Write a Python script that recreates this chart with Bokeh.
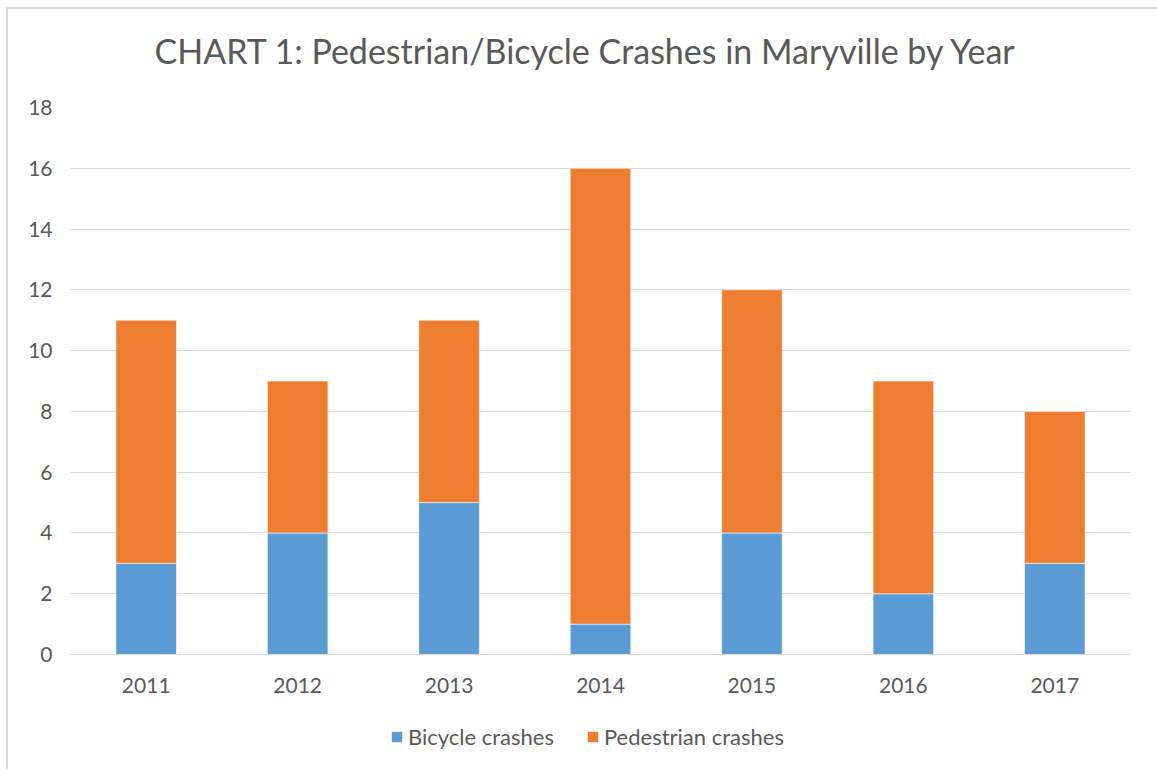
from bokeh.plotting import figure
from bokeh.layouts import column
from bokeh.models import ColumnDataSource, Legend, LegendItem, Label, FixedTicker, Range1d
from bokeh.embed import file_html
from bokeh.resources import INLINE

years = ["2011", "2012", "2013", "2014", "2015", "2016", "2017"]
bicycle = [3, 4, 5, 1, 4, 2, 3]
pedestrian = [8, 5, 6, 15, 8, 7, 5]
series = ["Bicycle crashes", "Pedestrian crashes"]
colors = ["#5B9BD5", "#ED7D31"]
y_ticks = [0, 2, 4, 6, 8, 10, 12, 14, 16, 18]
title_text = "CHART 1: Pedestrian/Bicycle Crashes in Maryville by Year"

FONT = "Lato"
TXT = "#595959"
W = 1149


def blank(h, x_range, y_range):
    f = figure(width=W, height=h, x_range=x_range, y_range=y_range,
               output_backend="svg", toolbar_location=None,
               x_axis_type=None, y_axis_type=None, min_border=0)
    f.title = None
    f.grid.grid_line_color = None
    f.outline_line_color = None
    return f


source = ColumnDataSource(dict(years=years, bicycle=bicycle, pedestrian=pedestrian))

# header with title
header = blank(84, Range1d(0, W), Range1d(0, 84))
header.add_layout(Label(x=559, y=43, text=title_text, text_font=FONT, text_font_size="34px",
                        text_color=TXT, text_align="center", text_baseline="alphabetic"))

# main chart
p = figure(x_range=years, y_range=(0, 18), frame_width=1060, frame_height=547,
           output_backend="svg", toolbar_location=None,
           min_border_left=62, min_border_right=27, min_border_top=14, min_border_bottom=55)
p.title = None
rs = p.vbar_stack(["bicycle", "pedestrian"], x="years", width=0.4, source=source,
                  color=colors, line_color="white", line_width=1, line_alpha=0.6)
p.outline_line_color = None
p.xgrid.grid_line_color = None
p.ygrid.grid_line_color = "#d9d9d9"
p.ygrid.grid_line_width = 1
p.yaxis.ticker = FixedTicker(ticks=y_ticks)
p.yaxis.axis_line_color = None
p.yaxis.major_tick_line_color = None
p.yaxis.minor_tick_line_color = None
p.yaxis.major_label_standoff = 12
p.xaxis.axis_line_color = "#d9d9d9"
p.xaxis.major_tick_line_color = None
p.xaxis.major_label_standoff = 17
for ax in (p.xaxis, p.yaxis):
    ax.major_label_text_font = FONT
    ax.major_label_text_font_size = "21px"
    ax.major_label_text_color = TXT

# footer with legend (its stacks lie outside the footer's visible range; only the swatches show)
footer = blank(60, years, Range1d(100, 160))
swatches = footer.vbar_stack(["bicycle", "pedestrian"], x="years", width=0.4, source=source,
                             color=colors, line_color=None)
legend = Legend(items=[LegendItem(label=s, renderers=[r]) for s, r in zip(series, swatches)],
                orientation="horizontal", location=(320, 19),
                label_text_font=FONT, label_text_font_size="22px", label_text_color=TXT,
                glyph_width=13, glyph_height=13, label_standoff=5, spacing=32,
                border_line_color=None, background_fill_alpha=0, padding=0, margin=0)
footer.add_layout(legend, "center")

layout = column(header, p, footer, spacing=0,
                styles={"border-left": "2px solid #d9d9d9", "border-top": "2px solid #d9d9d9",
                        "margin-left": "6px", "margin-top": "7px"})

open("out.html", "w").write(file_html(layout, INLINE))
